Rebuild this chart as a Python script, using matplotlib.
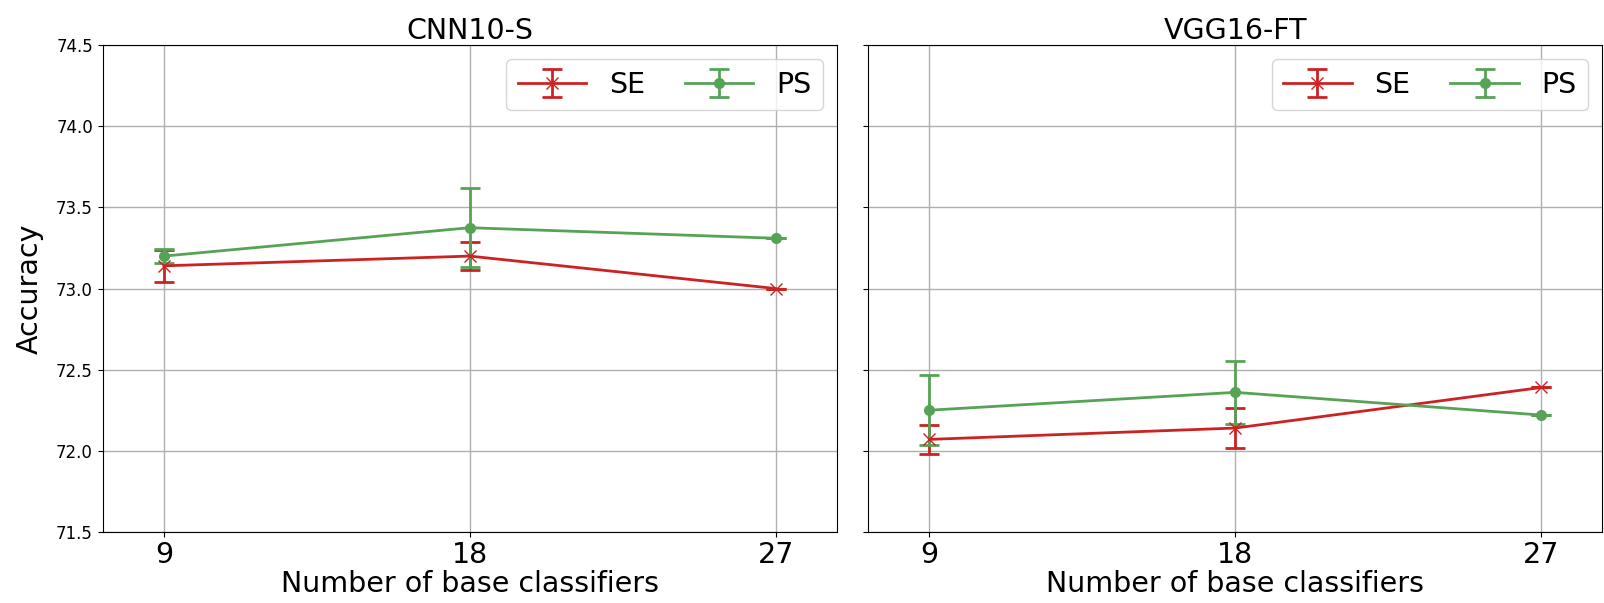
import numpy as np
from matplotlib import pyplot as plt

# data
n_base = [9, 18, 27]
panels = ["CNN10-S", "VGG16-FT"]

se_cnn = [73.14, 73.20, 73.00]
se_cnn_err = [0.10, 0.085, 0.0]
ps_cnn = [73.20, 73.375, 73.31]
ps_cnn_err = [0.043, 0.245, 0.0]

se_vgg = [72.07, 72.14, 72.39]
se_vgg_err = [0.088, 0.125, 0.0]
ps_vgg = [72.25, 72.36, 72.22]
ps_vgg_err = [0.215, 0.195, 0.0]

red = "#cc2222"
green = "#56a356"

fig, axs = plt.subplots(1, 2, figsize=(16.04, 6.03), dpi=100, sharey=True)
fig.subplots_adjust(left=0.064, right=0.999, bottom=0.118, top=0.925, wspace=0.043)

series = [(se_cnn, se_cnn_err, ps_cnn, ps_cnn_err),
          (se_vgg, se_vgg_err, ps_vgg, ps_vgg_err)]

for ax, title, (se, se_err, ps, ps_err) in zip(axs, panels, series):
    ax.errorbar(n_base, se, yerr=se_err, color=red, marker="x", markersize=8,
                linewidth=2, capsize=7, capthick=2, label="SE")
    ax.errorbar(n_base, ps, yerr=ps_err, color=green, marker="o", markersize=7,
                linewidth=2, capsize=7, capthick=2, label="PS")
    ax.set_title(title, fontsize=20.5, pad=4)
    ax.set_xlabel("Number of base classifiers", fontsize=20.5, labelpad=1)
    ax.set_xticks(n_base)
    ax.set_xlim(7.2, 28.8)
    ax.tick_params(axis="x", labelsize=20.5, pad=3)
    ax.tick_params(axis="y", labelsize=12)
    ax.grid(True, color="#b0b0b0", linewidth=1)
    ax.legend(loc="upper right", ncol=2, fontsize=20.5, handlelength=2.4,
              columnspacing=1.4)

axs[0].set_ylim(71.5, 74.5)
axs[0].set_yticks(np.arange(71.5, 74.6, 0.5))
axs[0].set_ylabel("Accuracy", fontsize=20.5, labelpad=9)

plt.savefig("out.png")
